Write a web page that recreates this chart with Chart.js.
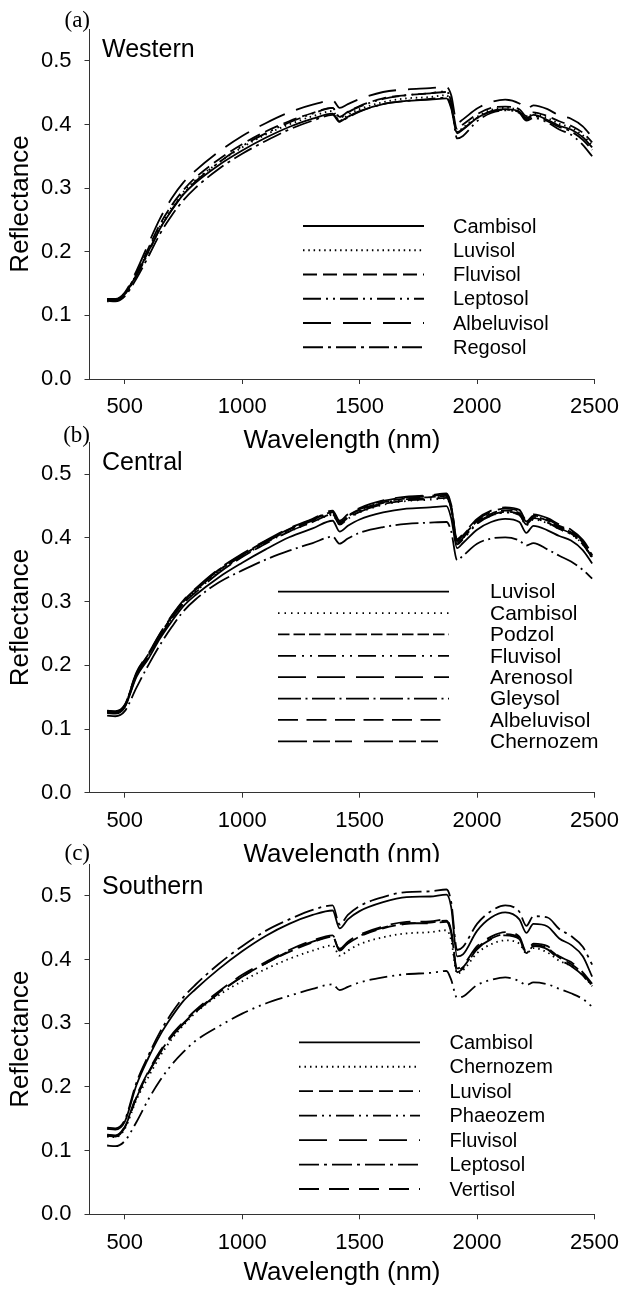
<!DOCTYPE html>
<html><head><meta charset="utf-8">
<script src="https://cdn.jsdelivr.net/npm/chart.js@4.4.1/dist/chart.umd.min.js"></script>
<style>
html,body{margin:0;padding:0;background:#fff;}
body{width:620px;height:1290px;position:relative;overflow:hidden;}
canvas{position:absolute;left:0;}
</style></head><body>
<canvas id="cA" width="620" height="460" style="top:0px"></canvas>
<canvas id="cB" width="620" height="460" style="top:420px"></canvas>
<canvas id="cC" width="620" height="450" style="top:840px"></canvas>
<script>
// ---- data ----
const wavelengths = [425,460,500,550,600,650,700,750,800,900,1000,1100,1200,1300,1385,1415,1450,1500,1600,1700,1800,1870,1890,1915,1940,2000,2060,2120,2180,2210,2240,2300,2350,2400,2450,2490];
const xTicks = [500,1000,1500,2000,2500];
const yTicks = [0,0.1,0.2,0.3,0.4,0.5];

// (a) Western
const westernNames = ['Cambisol','Luvisol','Fluvisol','Leptosol','Albeluvisol','Regosol'];
const aCambisol    = [0.124,0.124,0.133,0.164,0.200,0.236,0.265,0.290,0.308,0.336,0.359,0.379,0.396,0.409,0.417,0.405,0.412,0.421,0.432,0.437,0.439,0.441,0.425,0.386,0.392,0.410,0.421,0.424,0.420,0.410,0.415,0.407,0.398,0.392,0.380,0.364];
const aLuvisol     = [0.122,0.123,0.133,0.165,0.203,0.240,0.270,0.294,0.312,0.340,0.364,0.384,0.400,0.413,0.421,0.406,0.415,0.424,0.435,0.441,0.443,0.446,0.430,0.388,0.395,0.412,0.423,0.426,0.422,0.411,0.417,0.410,0.401,0.395,0.383,0.367];
const aFluvisol    = [0.126,0.125,0.134,0.166,0.205,0.243,0.273,0.297,0.316,0.345,0.369,0.389,0.405,0.418,0.426,0.412,0.420,0.429,0.441,0.446,0.449,0.451,0.436,0.393,0.400,0.416,0.426,0.428,0.424,0.413,0.419,0.413,0.405,0.398,0.387,0.372];
const aLeptosol    = [0.125,0.124,0.132,0.162,0.198,0.236,0.266,0.291,0.310,0.340,0.366,0.386,0.403,0.417,0.426,0.410,0.419,0.428,0.440,0.446,0.449,0.452,0.434,0.378,0.382,0.405,0.418,0.422,0.418,0.406,0.410,0.403,0.392,0.384,0.368,0.350];
const aAlbeluvisol = [0.126,0.126,0.136,0.170,0.212,0.252,0.284,0.309,0.327,0.357,0.382,0.402,0.419,0.431,0.438,0.426,0.432,0.440,0.451,0.455,0.457,0.459,0.446,0.402,0.408,0.425,0.435,0.439,0.433,0.424,0.430,0.424,0.414,0.409,0.397,0.380];
const aRegosol     = [0.123,0.122,0.130,0.158,0.192,0.228,0.257,0.281,0.300,0.330,0.354,0.374,0.392,0.406,0.415,0.404,0.411,0.420,0.432,0.437,0.440,0.442,0.428,0.388,0.393,0.410,0.420,0.423,0.419,0.408,0.413,0.405,0.396,0.389,0.376,0.360];

// (b) Central
const centralNames = ['Luvisol','Cambisol','Podzol','Fluvisol','Arenosol','Gleysol','Albeluvisol','Chernozem'];
const bLuvisol     = [0.125,0.124,0.134,0.182,0.210,0.242,0.269,0.293,0.310,0.338,0.361,0.382,0.401,0.415,0.427,0.410,0.419,0.429,0.440,0.446,0.448,0.450,0.431,0.384,0.392,0.413,0.425,0.430,0.425,0.408,0.419,0.412,0.403,0.396,0.381,0.360];
const bCambisol    = [0.127,0.125,0.136,0.185,0.214,0.246,0.274,0.298,0.315,0.346,0.371,0.392,0.410,0.425,0.436,0.421,0.430,0.440,0.452,0.458,0.460,0.462,0.445,0.392,0.400,0.423,0.435,0.440,0.436,0.420,0.429,0.423,0.414,0.406,0.390,0.368];
const bPodzol      = [0.128,0.127,0.137,0.187,0.216,0.248,0.276,0.300,0.318,0.349,0.373,0.394,0.413,0.428,0.440,0.424,0.434,0.444,0.456,0.462,0.464,0.466,0.448,0.395,0.403,0.426,0.438,0.443,0.439,0.424,0.433,0.427,0.417,0.409,0.393,0.372];
const bFluvisol    = [0.126,0.126,0.136,0.186,0.215,0.247,0.275,0.299,0.317,0.348,0.372,0.393,0.412,0.427,0.438,0.422,0.432,0.442,0.455,0.461,0.463,0.465,0.446,0.390,0.398,0.422,0.435,0.440,0.436,0.421,0.430,0.424,0.414,0.406,0.390,0.370];
const bArenosol    = [0.129,0.128,0.138,0.189,0.218,0.250,0.278,0.302,0.320,0.351,0.375,0.396,0.415,0.430,0.443,0.427,0.437,0.447,0.459,0.465,0.467,0.470,0.452,0.398,0.406,0.430,0.443,0.448,0.444,0.428,0.437,0.431,0.421,0.413,0.397,0.375];
const bGleysol     = [0.121,0.120,0.128,0.165,0.200,0.232,0.260,0.285,0.303,0.330,0.349,0.366,0.380,0.392,0.402,0.391,0.399,0.408,0.417,0.422,0.424,0.425,0.410,0.365,0.372,0.391,0.399,0.401,0.396,0.388,0.392,0.382,0.372,0.363,0.350,0.336];
const bAlbeluvisol = [0.128,0.127,0.137,0.188,0.217,0.249,0.277,0.301,0.319,0.350,0.374,0.395,0.414,0.429,0.441,0.425,0.435,0.445,0.458,0.464,0.466,0.468,0.450,0.396,0.404,0.428,0.441,0.446,0.442,0.426,0.435,0.429,0.419,0.411,0.395,0.373];
const bChernozem   = [0.127,0.126,0.135,0.184,0.213,0.245,0.273,0.297,0.314,0.345,0.370,0.391,0.410,0.425,0.437,0.421,0.431,0.441,0.453,0.459,0.461,0.463,0.446,0.392,0.400,0.424,0.436,0.441,0.437,0.422,0.431,0.425,0.415,0.407,0.391,0.369];

// (c) Southern
const southernNames = ['Cambisol','Chernozem','Luvisol','Phaeozem','Fluvisol','Leptosol','Vertisol'];
const cCambisol    = [0.134,0.133,0.145,0.203,0.245,0.281,0.310,0.335,0.353,0.385,0.413,0.437,0.456,0.470,0.477,0.449,0.463,0.476,0.490,0.498,0.499,0.502,0.482,0.405,0.408,0.445,0.466,0.474,0.463,0.442,0.456,0.452,0.433,0.423,0.405,0.373];
const cChernozem   = [0.122,0.121,0.134,0.180,0.215,0.248,0.275,0.297,0.316,0.344,0.366,0.385,0.401,0.414,0.422,0.406,0.414,0.424,0.435,0.441,0.443,0.446,0.430,0.378,0.383,0.410,0.424,0.430,0.425,0.410,0.418,0.411,0.398,0.390,0.376,0.358];
const cLuvisol     = [0.124,0.123,0.137,0.184,0.222,0.254,0.280,0.300,0.318,0.348,0.373,0.394,0.412,0.427,0.436,0.415,0.425,0.436,0.449,0.456,0.458,0.461,0.443,0.383,0.388,0.418,0.433,0.440,0.434,0.410,0.423,0.418,0.403,0.393,0.378,0.358];
const cPhaeozem    = [0.108,0.107,0.115,0.145,0.180,0.210,0.235,0.255,0.272,0.295,0.315,0.331,0.343,0.354,0.361,0.352,0.357,0.364,0.372,0.377,0.379,0.382,0.368,0.340,0.342,0.360,0.368,0.372,0.366,0.360,0.364,0.361,0.354,0.347,0.338,0.326];
const cFluvisol    = [0.123,0.122,0.136,0.183,0.221,0.253,0.279,0.299,0.317,0.347,0.373,0.394,0.413,0.428,0.436,0.414,0.426,0.437,0.450,0.457,0.457,0.459,0.441,0.380,0.386,0.416,0.432,0.438,0.432,0.409,0.421,0.416,0.400,0.390,0.375,0.356];
const cLeptosol    = [0.136,0.135,0.148,0.207,0.249,0.286,0.316,0.341,0.360,0.393,0.421,0.445,0.463,0.478,0.485,0.455,0.470,0.484,0.498,0.506,0.507,0.510,0.490,0.415,0.420,0.456,0.476,0.485,0.475,0.453,0.468,0.466,0.448,0.437,0.420,0.392];
const cVertisol    = [0.125,0.124,0.138,0.186,0.224,0.256,0.282,0.302,0.320,0.350,0.376,0.396,0.415,0.430,0.438,0.417,0.428,0.439,0.452,0.459,0.460,0.463,0.445,0.386,0.391,0.421,0.436,0.443,0.436,0.412,0.425,0.421,0.405,0.396,0.380,0.362];

// ---- styles (line dash patterns) ----
const westernDash  = [[], [1.5,3.8], [14,6], [18,5,2,5,2,5], [28,12], [20,5,3,5]];
const centralDash  = [[], [1.5,5], [11.5,4], [18,6,2,6,2,6], [28,11], [23,4.5,2,4.5], [20,8.5], [29,6,17,5,17,12]];
const southernDash = [[], [1.5,4], [14,6], [18,5,2,5,2,5], [28,12], [20,5,3,5], [20,10]];

const SANS = '"Liberation Sans", Arial, sans-serif';
const SERIF = '"Liberation Serif", "Times New Roman", serif';

const deco = {
  id: 'deco',
  beforeDraw(chart, args, o) {
    if (o.whiteFrom != null) {
      const c = chart.ctx; c.save(); c.fillStyle = '#fff';
      c.fillRect(0, o.whiteFrom, chart.width, chart.height - o.whiteFrom); c.restore();
    }
  },
  afterDraw(chart, args, o) {
    const c = chart.ctx; c.save();
    c.fillStyle = '#000'; c.textBaseline = 'middle';
    c.font = '23px ' + SERIF; c.textAlign = 'right';
    c.fillText(o.letter, 90, o.letterY);
    c.font = '25px ' + SANS; c.textAlign = 'left';
    c.fillText(o.region, 102, o.regionY);
    c.font = o.legendFont + 'px ' + SANS;
    chart.data.datasets.forEach((d, i) => {
      const y = o.legendTop + i * o.legendGap;
      c.strokeStyle = '#000'; c.lineWidth = 1.8; c.lineCap = 'butt';
      c.setLineDash(d.borderDash || []);
      c.beginPath(); c.moveTo(o.lx0, y); c.lineTo(o.lx1, y); c.stroke();
      c.setLineDash([]);
      c.fillText(d.label, o.tx, y + 1);
    });
    c.restore();
  }
};

function makePanel(id, H, chartTop, chartBottom, names, series, dashes, titlePadBottom, deco_opts) {
  const datasets = names.map((n, i) => ({
    label: n,
    data: wavelengths.map((w, j) => ({x: w, y: series[i][j]})),
    borderColor: '#000', borderWidth: 1.8, borderDash: dashes[i],
    pointRadius: 0, fill: false, cubicInterpolationMode: 'monotone'
  }));
  return new Chart(document.getElementById(id), {
    type: 'line',
    data: {datasets},
    plugins: [deco],
    options: {
      responsive: false, animation: false, devicePixelRatio: 1,
      layout: {padding: {left: 0, right: 25.5, top: chartTop, bottom: 0}},
      plugins: {legend: {display: false}, tooltip: {enabled: false}, deco: deco_opts},
      scales: {
        x: {
          type: 'linear', min: 350, max: 2500,
          afterBuildTicks: s => { s.ticks = xTicks.map(v => ({value: v})); },
          afterFit: s => { s.height = H - chartBottom; s.paddingLeft = 0; s.paddingRight = 0; },
          grid: {display: true, drawOnChartArea: false, drawTicks: true, tickLength: 5, color: '#333', tickColor: '#333'},
          border: {display: true, color: '#333', width: 1},
          ticks: {color: '#000', font: {family: SANS, size: 22}, padding: 10, maxRotation: 0, autoSkip: false, callback: v => String(v)},
          title: {display: true, text: 'Wavelength (nm)', color: '#000', font: {family: SANS, size: 26}, padding: {top: 0, bottom: titlePadBottom}}
        },
        y: {
          min: 0, max: 0.55,
          afterBuildTicks: s => { s.ticks = yTicks.map(v => ({value: v})); },
          afterFit: s => { s.width = 89.5; s.paddingTop = 0; s.paddingBottom = 0; },
          grid: {display: true, drawOnChartArea: false, drawTicks: true, tickLength: 5, color: '#333', tickColor: '#333'},
          border: {display: true, color: '#333', width: 1},
          ticks: {color: '#000', font: {family: SANS, size: 22}, padding: 13, callback: v => v.toFixed(1)},
          title: {display: true, text: 'Reflectance', color: '#000', font: {family: SANS, size: 26}, padding: {top: 5, bottom: 0}}
        }
      }
    }
  });
}

makePanel('cA', 460, 29, 379, westernNames,
  [aCambisol, aLuvisol, aFluvisol, aLeptosol, aAlbeluvisol, aRegosol], westernDash, 4,
  {letter: '(a)', letterY: 21, region: 'Western', regionY: 50, legendFont: 20,
   legendTop: 226, legendGap: 24.25, lx0: 303, lx1: 424, tx: 453});

makePanel('cB', 460, 22.4, 372.7, centralNames,
  [bLuvisol, bCambisol, bPodzol, bFluvisol, bArenosol, bGleysol, bAlbeluvisol, bChernozem], centralDash, 10,
  {letter: '(b)', letterY: 16, region: 'Central', regionY: 43, legendFont: 21,
   legendTop: 171.7, legendGap: 21.37, lx0: 278, lx1: 449, tx: 490});

makePanel('cC', 450, 24, 374.3, southernNames,
  [cCambisol, cChernozem, cLuvisol, cPhaeozem, cFluvisol, cLeptosol, cVertisol], southernDash, 2,
  {letter: '(c)', letterY: 14, region: 'Southern', regionY: 47, legendFont: 20,
   legendTop: 202.3, legendGap: 24.45, lx0: 299, lx1: 420, tx: 449.5, whiteFrom: 22});
</script>
</body></html>
